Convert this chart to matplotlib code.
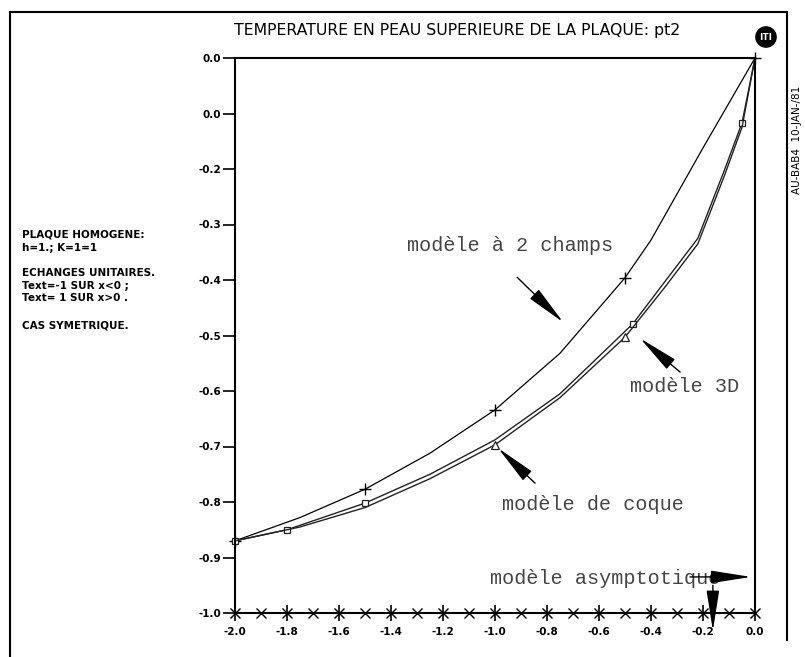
import matplotlib
matplotlib.use("Agg")
import matplotlib.pyplot as plt
from matplotlib.lines import Line2D
import numpy as np

# courbes
x_2champs = [-2.0, -1.75, -1.5, -1.25, -1.0, -0.75, -0.5, -0.4, -0.2, 0.0]
y_2champs = [-0.870, -0.828, -0.777, -0.712, -0.634, -0.532, -0.396, -0.328, -0.162, 0.0]

x_3d = [-2.0, -1.8, -1.5, -1.25, -1.0, -0.75, -0.47, -0.35, -0.22, -0.12, -0.05, 0.0]
y_3d = [-0.870, -0.850, -0.802, -0.750, -0.688, -0.605, -0.479, -0.405, -0.325, -0.205, -0.117, 0.0]

x_coque = [-2.0, -1.75, -1.5, -1.25, -1.0, -0.75, -0.5, -0.35, -0.22, -0.12, -0.05, 0.0]
y_coque = [-0.870, -0.845, -0.810, -0.758, -0.697, -0.612, -0.503, -0.415, -0.335, -0.215, -0.125, 0.0]

x_asym = [-2.0, -1.9, -1.8, -1.7, -1.6, -1.5, -1.4, -1.3, -1.2, -1.1, -1.0,
          -0.9, -0.8, -0.7, -0.6, -0.5, -0.4, -0.3, -0.2, -0.1, 0.0]
y_asym = [-1.0] * len(x_asym)

xticks = [-2.0, -1.8, -1.6, -1.4, -1.2, -1.0, -0.8, -0.6, -0.4, -0.2, 0.0]
xtick_labels = ["-2.0", "-1.8", "-1.6", "-1.4", "-1.2", "-1.0", "-0.8", "-0.6", "-0.4", "-0.2", "0.0"]
yticks = [0.0, -0.1, -0.2, -0.3, -0.4, -0.5, -0.6, -0.7, -0.8, -0.9, -1.0]
ytick_labels = ["0.0", "0.0", "-0.2", "-0.3", "-0.4", "-0.5", "-0.6", "-0.7", "-0.8", "-0.9", "-1.0"]

titre = "TEMPERATURE EN PEAU SUPERIEURE DE LA PLAQUE: pt2"
notes = ["PLAQUE HOMOGENE:", "h=1.; K=1=1", "ECHANGES UNITAIRES.",
         "Text=-1 SUR x<0 ;", "Text= 1 SUR x>0 .", "CAS SYMETRIQUE."]
notes_y = [235, 248, 273, 286, 298, 326]

sans = ["DejaVu Sans"]
mono = ["Liberation Mono", "DejaVu Sans Mono"]

fig = plt.figure(figsize=(8.05, 6.57), dpi=100)
W, H = 805.0, 657.0
ax = fig.add_axes([235 / W, 1 - 613 / H, 520 / W, 555 / H])

ax.plot(x_2champs, y_2champs, color="black", lw=0.9, marker="+", ms=8, mew=1.0,
        markevery=[0, 2, 4, 6, 9], clip_on=False)
ax.plot(x_3d, y_3d, color="#222222", lw=1.0, marker="s", ms=5, mfc="white", mew=0.9,
        markevery=[0, 1, 2, 6, 10], clip_on=False)
ax.plot(x_coque, y_coque, color="#222222", lw=1.0, marker="^", ms=6, mfc="white", mew=0.9,
        markevery=[4, 6], clip_on=False)
ax.plot(x_asym, y_asym, color="black", lw=1.2, ls="none", marker="x", ms=7, mew=1.0, clip_on=False)

ax.set_xlim(-2.0, 0.0)
ax.set_ylim(-1.0, 0.0)
ax.set_xticks(xticks)
ax.set_xticklabels(xtick_labels, fontfamily=sans, fontsize=7.5, fontweight="bold")
ax.set_yticks(yticks)
ax.set_yticklabels(ytick_labels, fontfamily=sans, fontsize=7.5, fontweight="bold")
ax.tick_params(axis="x", direction="inout", length=12, width=1.2, pad=4)
ax.tick_params(axis="y", direction="out", length=9, width=1.2, pad=1)
for s in ax.spines.values():
    s.set_linewidth(1.5)

# annotations des modeles
txt = dict(fontfamily=mono, fontsize=14.5, color="#444444", va="center", ha="left")
fl = dict(arrowstyle="-|>,head_length=1.4,head_width=0.22", color="black", lw=1.0,
          mutation_scale=18, shrinkA=0, shrinkB=0)

ax.text(-1.338, -0.337, "modèle à 2 champs", **txt)
ax.annotate("", xy=(-0.738, -0.476), xytext=(-0.915, -0.395), arrowprops=fl)

ax.text(-0.481, -0.591, "modèle 3D", **txt)
ax.annotate("", xy=(-0.442, -0.505), xytext=(-0.288, -0.566), arrowprops=fl)

ax.text(-0.973, -0.805, "modèle de coque", **txt)
ax.annotate("", xy=(-0.988, -0.703), xytext=(-0.846, -0.766), arrowprops=fl)

ax.text(-1.019, -0.937, "modèle asymptotique", **txt)
ax.annotate("", xy=(-0.015, -0.935), xytext=(-0.25, -0.935), arrowprops=fl,
            annotation_clip=False)
ax.annotate("", xy=(-0.162, -1.032), xytext=(-0.162, -0.950), arrowprops=fl,
            annotation_clip=False)

# titre et cadre
fig.text(457 / W, 1 - 30 / H, titre, ha="center", va="center",
         fontfamily=sans, fontsize=11.3)
fig.text(766 / W, 1 - 37 / H, "ITI", ha="center", va="center", color="white",
         fontfamily=sans, fontsize=6.5, fontweight="bold",
         bbox=dict(boxstyle="circle,pad=0.4", fc="black", ec="black"))

for ligne, py in zip(notes, notes_y):
    fig.text(22 / W, 1 - py / H, ligne, ha="left", va="center",
             fontfamily=sans, fontsize=7.5, fontweight="bold")

fig.text(797 / W, 1 - 140 / H, "AU-BAB4  10-JAN-/81", rotation=90, ha="center", va="center",
         fontfamily=sans, fontsize=7.5)

fig.add_artist(Line2D([10 / W, 10 / W], [0, 1 - 12 / H], color="black", lw=1.5))
fig.add_artist(Line2D([10 / W, 787 / W], [1 - 12 / H, 1 - 12 / H], color="black", lw=1.5))
fig.add_artist(Line2D([787 / W, 787 / W], [1 - 640 / H, 1 - 12 / H], color="black", lw=1.5))

fig.savefig("out.png", dpi=100)
